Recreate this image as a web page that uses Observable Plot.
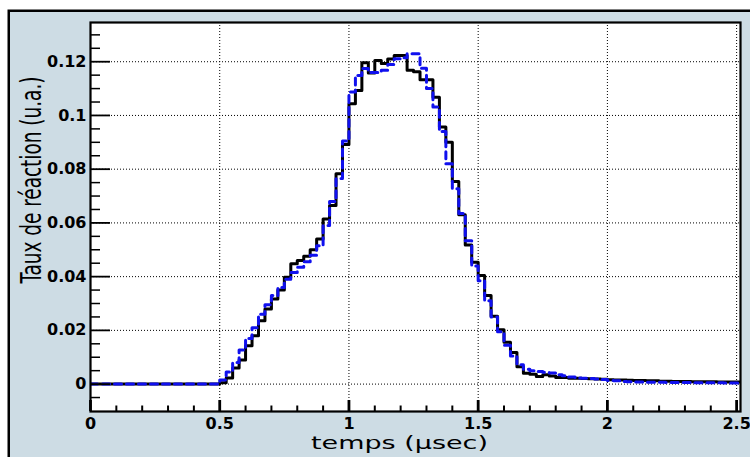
<!DOCTYPE html>
<html><head><meta charset="utf-8">
<script src="https://cdn.jsdelivr.net/npm/d3@7"></script>
<script src="https://cdn.jsdelivr.net/npm/@observablehq/plot@0.6"></script>
<style>
html,body{margin:0;padding:0;background:#ffffff;}
#chart{width:750px;height:457px;overflow:hidden;position:relative;}
</style></head><body><div id="chart"></div>
<script>
// Histogram binning (time in µs)
const binStart = 0;
const binWidth = 0.025;

// Black (solid) histogram, one value per bin starting at 0, 0.025, ... 2.5
const reactionRateBlack = [
  0,0,0,0,0,0,0,0,0,0,0,0,0,0,0,0,0,0,0,0,
  0.0005, 0.0023, 0.006, 0.009, 0.0143, 0.018, 0.0236, 0.028,
  0.0317, 0.035, 0.0398, 0.0448, 0.046, 0.0476, 0.05, 0.054,
  0.0615, 0.0665, 0.0783, 0.0892, 0.1044, 0.1093, 0.1196, 0.1158,
  0.1205, 0.1193, 0.121, 0.1223, 0.1223, 0.1168, 0.1163, 0.1133,
  0.1133, 0.1068, 0.0957, 0.09, 0.0754, 0.063, 0.0518, 0.0454,
  0.0404, 0.033, 0.0253, 0.0202, 0.0156, 0.0118, 0.0065, 0.004,
  0.0037, 0.0028, 0.0035, 0.003, 0.0025, 0.0025, 0.0022, 0.0022,
  0.0021, 0.002, 0.0019, 0.0018, 0.0016, 0.0015, 0.0015, 0.0014,
  0.0013, 0.0013, 0.0012, 0.0012, 0.0011, 0.0011, 0.001, 0.001,
  0.001, 0.0009, 0.0009, 0.0009, 0.0009, 0.0008, 0.0008, 0.0008,
  0.0008
];

// Blue (dashed) histogram, same bins
const reactionRateBlue = [
  0,0,0,0,0,0,0,0,0,0,0,0,0,0,0,0,0,0,0,0,
  0.0015, 0.0045, 0.008, 0.0127, 0.017, 0.021, 0.026, 0.0295,
  0.033, 0.036, 0.039, 0.0415, 0.0435, 0.0455, 0.048, 0.0515,
  0.059, 0.068, 0.0765, 0.0905, 0.1087, 0.1149, 0.1175, 0.116,
  0.116, 0.1168, 0.119, 0.1211, 0.1215, 0.123, 0.123, 0.1176,
  0.11, 0.1031, 0.094, 0.082, 0.0727, 0.0635, 0.0534, 0.044,
  0.0385, 0.031, 0.025, 0.0195, 0.0145, 0.0105, 0.0072, 0.0055,
  0.005, 0.0047, 0.0044, 0.0041, 0.0035, 0.0031, 0.0026, 0.0023,
  0.0022, 0.0021, 0.0019, 0.0017, 0.0013, 0.0012, 0.001, 0.0009,
  0.0008, 0.0008, 0.0007, 0.0007, 0.0007, 0.0006, 0.0006, 0.0006,
  0.0006, 0.0005, 0.0005, 0.0005, 0.0005, 0.0005, 0.0004, 0.0004,
  0.0004
];

const xMajorTicks = [0, 0.5, 1, 1.5, 2, 2.5];
const xMinorTicks = [0.1, 0.2, 0.3, 0.4, 0.6, 0.7, 0.8, 0.9, 1.1, 1.2, 1.3, 1.4, 1.6, 1.7, 1.8, 1.9, 2.1, 2.2, 2.3, 2.4];
const yMajorTicks = [0, 0.02, 0.04, 0.06, 0.08, 0.1, 0.12];
const yMinorTicks = [-0.005, 0.005, 0.01, 0.015, 0.025, 0.03, 0.035, 0.045, 0.05, 0.055, 0.065, 0.07, 0.075, 0.085, 0.09, 0.095, 0.105, 0.11, 0.115, 0.125, 0.13];
const xTitle = "temps (μsec)";
const yTitle = "Taux de réaction (u.a.)";

function histPoints(values) {
  const pts = values.map((v, i) => ({t: binStart + i * binWidth, v}));
  pts.push({t: binStart + values.length * binWidth, v: values[values.length - 1]});
  return pts;
}

const tickFont = {fontSize: 16, fontWeight: "bold", fontFamily: "DejaVu Sans", fill: "black"};

const plot = Plot.plot({
  width: 750, height: 457,
  marginLeft: 90, marginRight: 10, marginTop: 22, marginBottom: 46,
  style: {background: "transparent", fontFamily: "DejaVu Sans", color: "black"},
  x: {domain: [0, 2.515]},
  y: {domain: [-0.0102, 0.1346]},
  marks: [
    Plot.frame({fill: "white", stroke: null}),
    Plot.ruleX(xMajorTicks, {stroke: "black", strokeWidth: 1, strokeDasharray: "1,2"}),
    Plot.ruleY(yMajorTicks, {stroke: "black", strokeWidth: 1, strokeDasharray: "1,2"}),
    Plot.lineY(histPoints(reactionRateBlack), {x: "t", y: "v", curve: "step-after", stroke: "black", strokeWidth: 3, clip: true}),
    Plot.lineY(histPoints(reactionRateBlue), {x: "t", y: "v", curve: "step-after", stroke: "#1010ee", strokeWidth: 3, strokeDasharray: "7,5", clip: true}),
    Plot.frame({stroke: "black", strokeWidth: 2.2}),
    Plot.axisX({ticks: xMinorTicks, tickSize: -5.5, tickFormat: () => "", label: null, strokeWidth: 2}),
    Plot.axisX({ticks: xMajorTicks, tickSize: -11, tickFormat: () => "", label: null, strokeWidth: 2.8}),
    Plot.axisX({ticks: xMajorTicks, tickSize: 0, tickPadding: 6, tickFormat: d => String(d), label: null, ...tickFont}),
    Plot.axisY({ticks: yMinorTicks, tickSize: -10, tickFormat: () => "", label: null, strokeWidth: 1.5}),
    Plot.axisY({ticks: yMajorTicks, tickSize: -20, tickFormat: () => "", label: null, strokeWidth: 1.8}),
    Plot.axisY({ticks: yMajorTicks, tickSize: 0, tickPadding: 4, tickFormat: d => String(d), label: null, ...tickFont}),
    Plot.text([xTitle], {frameAnchor: "bottom", dx: -16, dy: 37, lineAnchor: "bottom", fontSize: 18, fontWeight: 500, fontFamily: "DejaVu Sans", fill: "black"}),
    Plot.text([yTitle], {frameAnchor: "left", rotate: -90, textAnchor: "start", dx: -50, dy: 66.5, lineAnchor: "bottom", fontSize: 28, fontFamily: "'Liberation Sans Narrow', 'DejaVu Sans Condensed', 'DejaVu Sans'", fill: "black"})
  ]
});

// Canvas-style background panel with dark border (partly cropped at right/bottom)
const ns = "http://www.w3.org/2000/svg";
const bg = document.createElementNS(ns, "rect");
bg.setAttribute("x", 8.75); bg.setAttribute("y", 10.75);
bg.setAttribute("width", 800); bg.setAttribute("height", 500);
bg.setAttribute("fill", "#cddce4"); bg.setAttribute("stroke", "black"); bg.setAttribute("stroke-width", 2.5);
const firstG = plot.querySelector("g, rect, path, line, text");
plot.insertBefore(bg, firstG);

// Stretch/condense the axis titles to the comic-style widths
plot.querySelectorAll("text").forEach(t => {
  if (t.textContent === xTitle) { t.setAttribute("textLength", 177); t.setAttribute("lengthAdjust", "spacingAndGlyphs"); }
  if (t.textContent === yTitle) { t.setAttribute("textLength", 207); t.setAttribute("lengthAdjust", "spacingAndGlyphs"); }
});

document.getElementById("chart").appendChild(plot);
</script>
</body></html>
